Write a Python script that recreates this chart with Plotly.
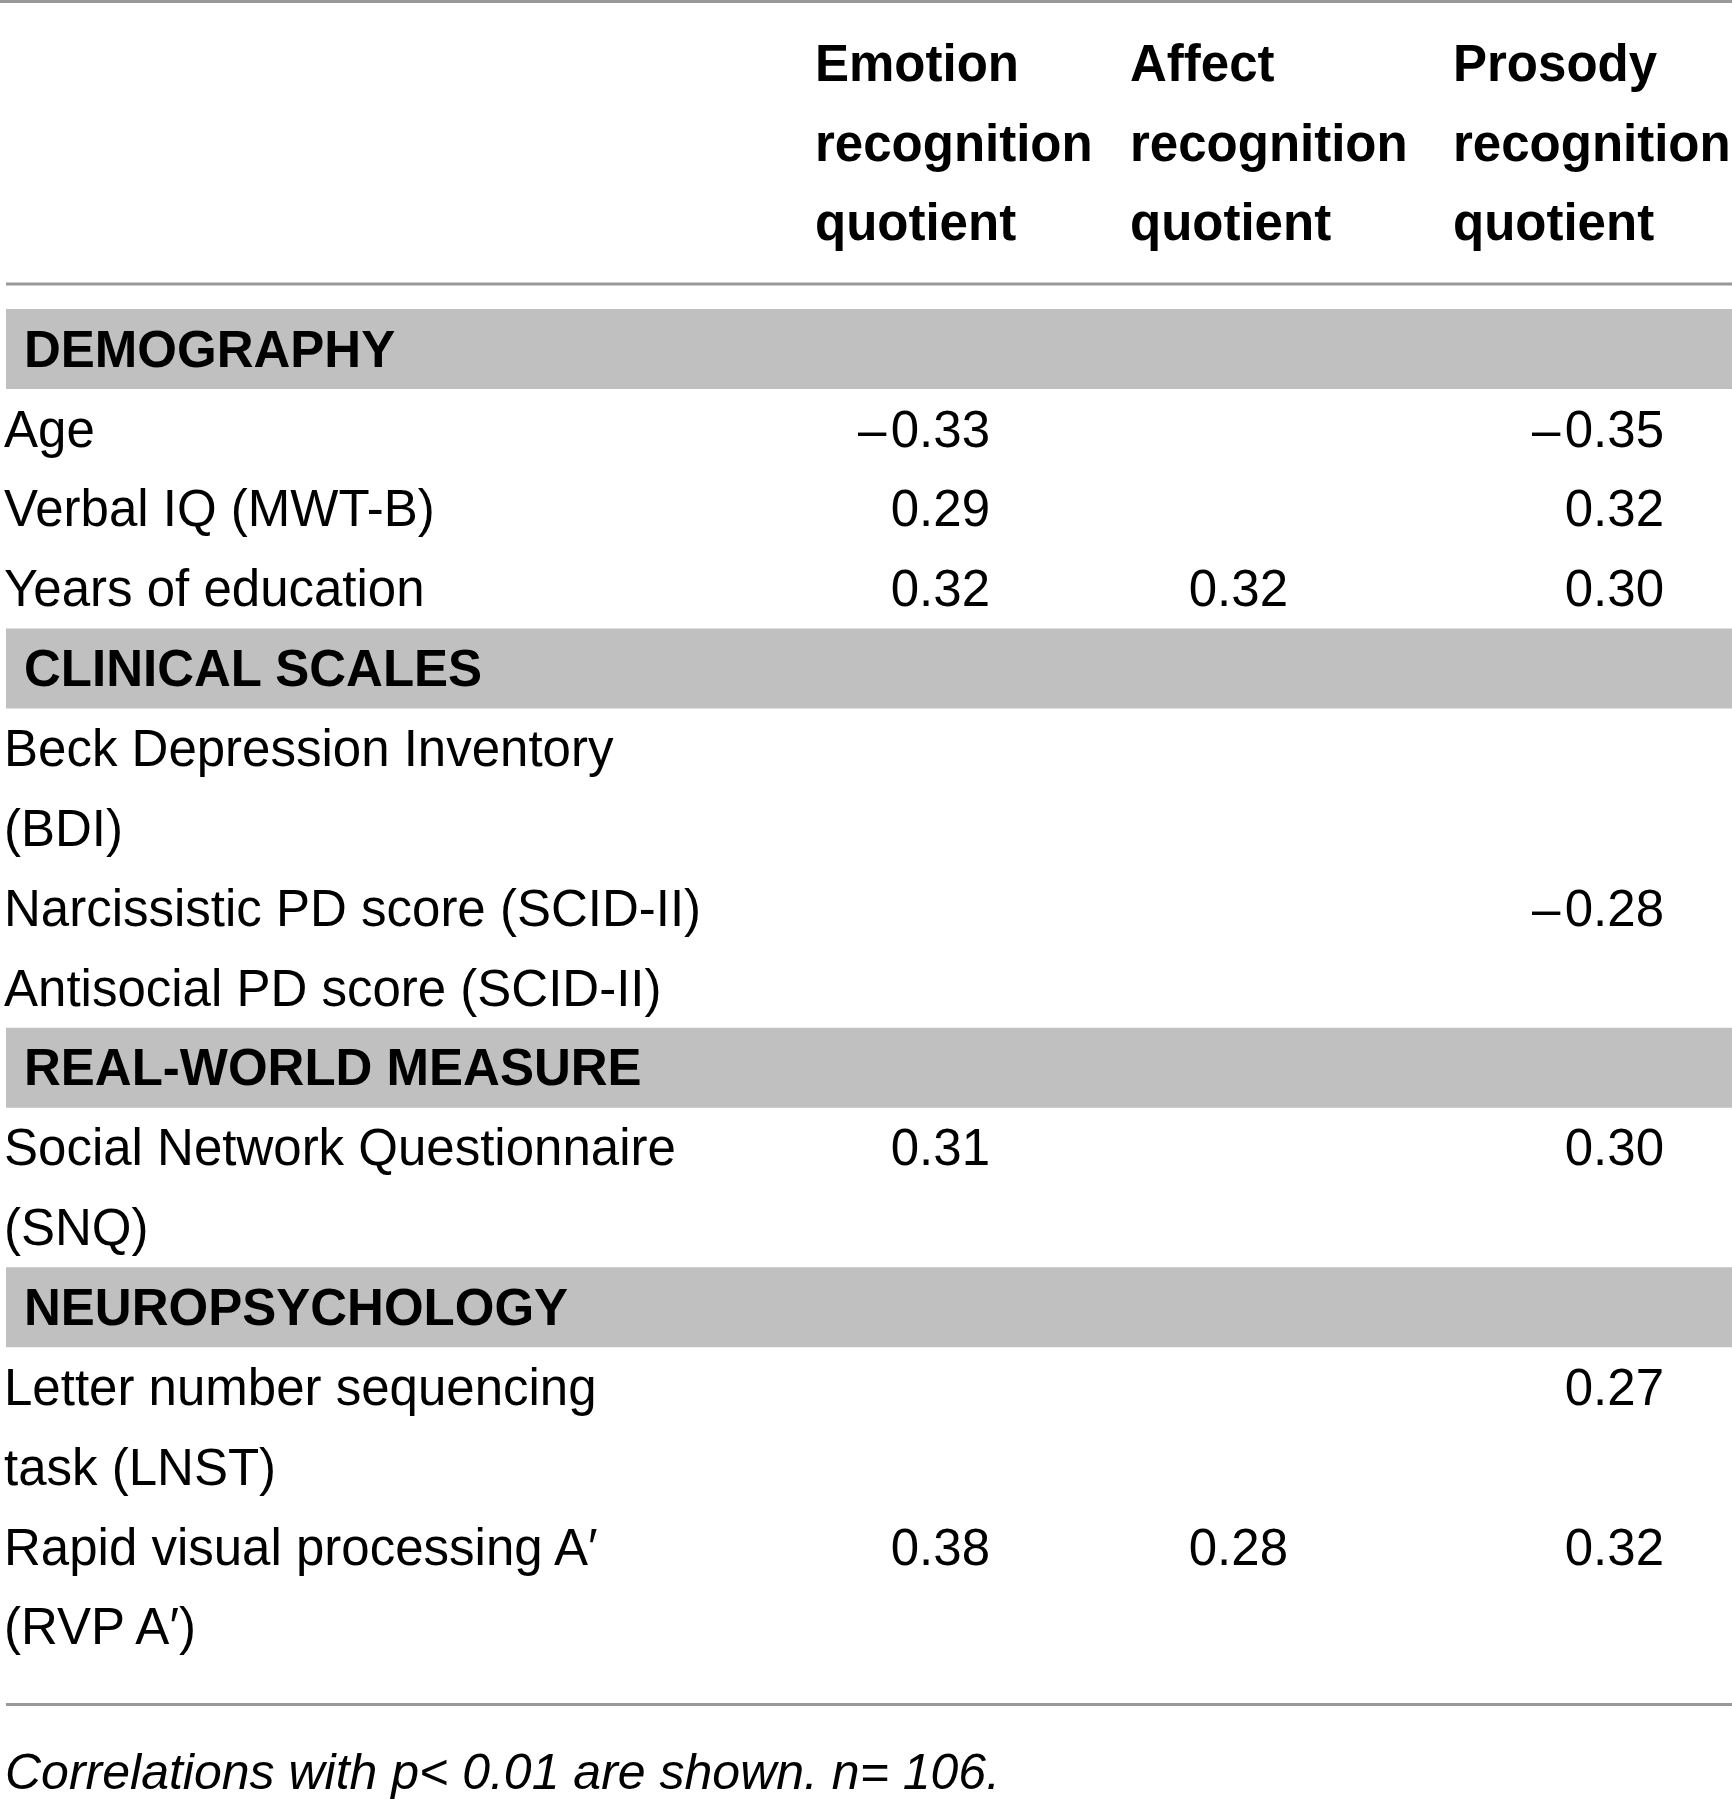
import plotly.graph_objs as go

# table content
col_headers = [
    ["Emotion", "recognition", "quotient"],
    ["Affect", "recognition", "quotient"],
    ["Prosody", "recognition", "quotient"],
]
section_names = ["DEMOGRAPHY", "CLINICAL SCALES", "REAL-WORLD MEASURE", "NEUROPSYCHOLOGY"]
row_section = [0, 0, 0, 1, 1, 1, 2, 3, 3]
row_labels = [
    "Age",
    "Verbal IQ (MWT-B)",
    "Years of education",
    "Beck Depression Inventory\n(BDI)",
    "Narcissistic PD score (SCID-II)",
    "Antisocial PD score (SCID-II)",
    "Social Network Questionnaire\n(SNQ)",
    "Letter number sequencing\ntask (LNST)",
    "Rapid visual processing A\u2032\n(RVP A\u2032)",
]
emotion_rq = [-0.33, 0.29, 0.32, None, None, None, 0.31, None, 0.38]
affect_rq = [None, None, 0.32, None, None, None, None, None, 0.28]
prosody_rq = [-0.35, 0.32, 0.30, None, -0.28, None, 0.30, 0.27, 0.32]
footnote = "Correlations with p< 0.01 are shown. n= 106."

# layout (pixels)
W, H = 1732, 1799
LINE = 79.85
HEAD_TOP = 63
BODY_TOP = 349
TDY = 5  # text baseline nudge
head_x = [815, 1130, 1453]
value_x = [990, 1288, 1664]
label_x = 4
band_label_x = 24
FS = 51
FONT = "Liberation Sans"


def fmt(v):
    if v is None:
        return ""
    return ("\u2013\u200a" if v < 0 else "") + f"{abs(v):.2f}"


fig = go.Figure()
shapes = []

# header
hx, hy, ht = [], [], []
for c, lines in enumerate(col_headers):
    for k, t in enumerate(lines):
        hx.append(head_x[c])
        hy.append(HEAD_TOP + k * LINE + TDY)
        ht.append(t)
fig.add_trace(go.Scatter(x=hx, y=hy, text=ht, mode="text", textposition="middle right",
                         textfont=dict(family=FONT, size=FS, color="black", weight="bold"),
                         hoverinfo="skip"))

# body
bx, by, bt = [], [], []
lx, ly, lt = [], [], []
vx, vy, vt = [], [], []
j = 0
prev = None
for i, lab in enumerate(row_labels):
    s = row_section[i]
    if s != prev:
        yc = BODY_TOP + j * LINE
        shapes.append(dict(type="rect", xref="x", yref="y", x0=6, x1=W, y0=yc - 40, y1=yc + 40,
                           fillcolor="#c0c0c0", line=dict(width=0), layer="below"))
        bx.append(band_label_x)
        by.append(yc + TDY)
        bt.append(section_names[s])
        j += 1
        prev = s
    yc = BODY_TOP + j * LINE + TDY
    for c, col in enumerate([emotion_rq, affect_rq, prosody_rq]):
        if col[i] is not None:
            vx.append(value_x[c])
            vy.append(yc)
            vt.append(fmt(col[i]))
    for part in lab.split("\n"):
        lx.append(label_x)
        ly.append(BODY_TOP + j * LINE + TDY)
        lt.append(part)
        j += 1

fig.add_trace(go.Scatter(x=bx, y=by, text=bt, mode="text", textposition="middle right",
                         textfont=dict(family=FONT, size=FS, color="black", weight="bold"),
                         hoverinfo="skip"))
fig.add_trace(go.Scatter(x=lx, y=ly, text=lt, mode="text", textposition="middle right",
                         textfont=dict(family=FONT, size=FS, color="black"),
                         hoverinfo="skip"))
fig.add_trace(go.Scatter(x=vx, y=vy, text=vt, mode="text", textposition="middle left",
                         textfont=dict(family=FONT, size=FS, color="black"),
                         hoverinfo="skip"))

# rules
last_y = BODY_TOP + (j - 1) * LINE
rule = dict(color="#999999", width=3)
shapes.append(dict(type="line", xref="x", yref="y", x0=0, x1=W, y0=1.5, y1=1.5, line=rule))
shapes.append(dict(type="line", xref="x", yref="y", x0=6, x1=W, y0=284, y1=284, line=rule))
shapes.append(dict(type="line", xref="x", yref="y", x0=6, x1=W, y0=last_y + 78, y1=last_y + 78, line=rule))

fig.add_trace(go.Scatter(x=[5], y=[last_y + 150], text=[footnote], mode="text",
                         textposition="middle right",
                         textfont=dict(family=FONT, size=50, color="black", style="italic"),
                         hoverinfo="skip"))

fig.update_layout(
    width=W, height=H,
    margin=dict(l=0, r=0, t=0, b=0),
    paper_bgcolor="white", plot_bgcolor="white",
    showlegend=False,
    shapes=shapes,
    xaxis=dict(range=[0, W], visible=False, fixedrange=True),
    yaxis=dict(range=[H, 0], visible=False, fixedrange=True),
)

fig.write_html("out.html", config={"displayModeBar": False},
               post_script="document.body.style.margin='0';")
